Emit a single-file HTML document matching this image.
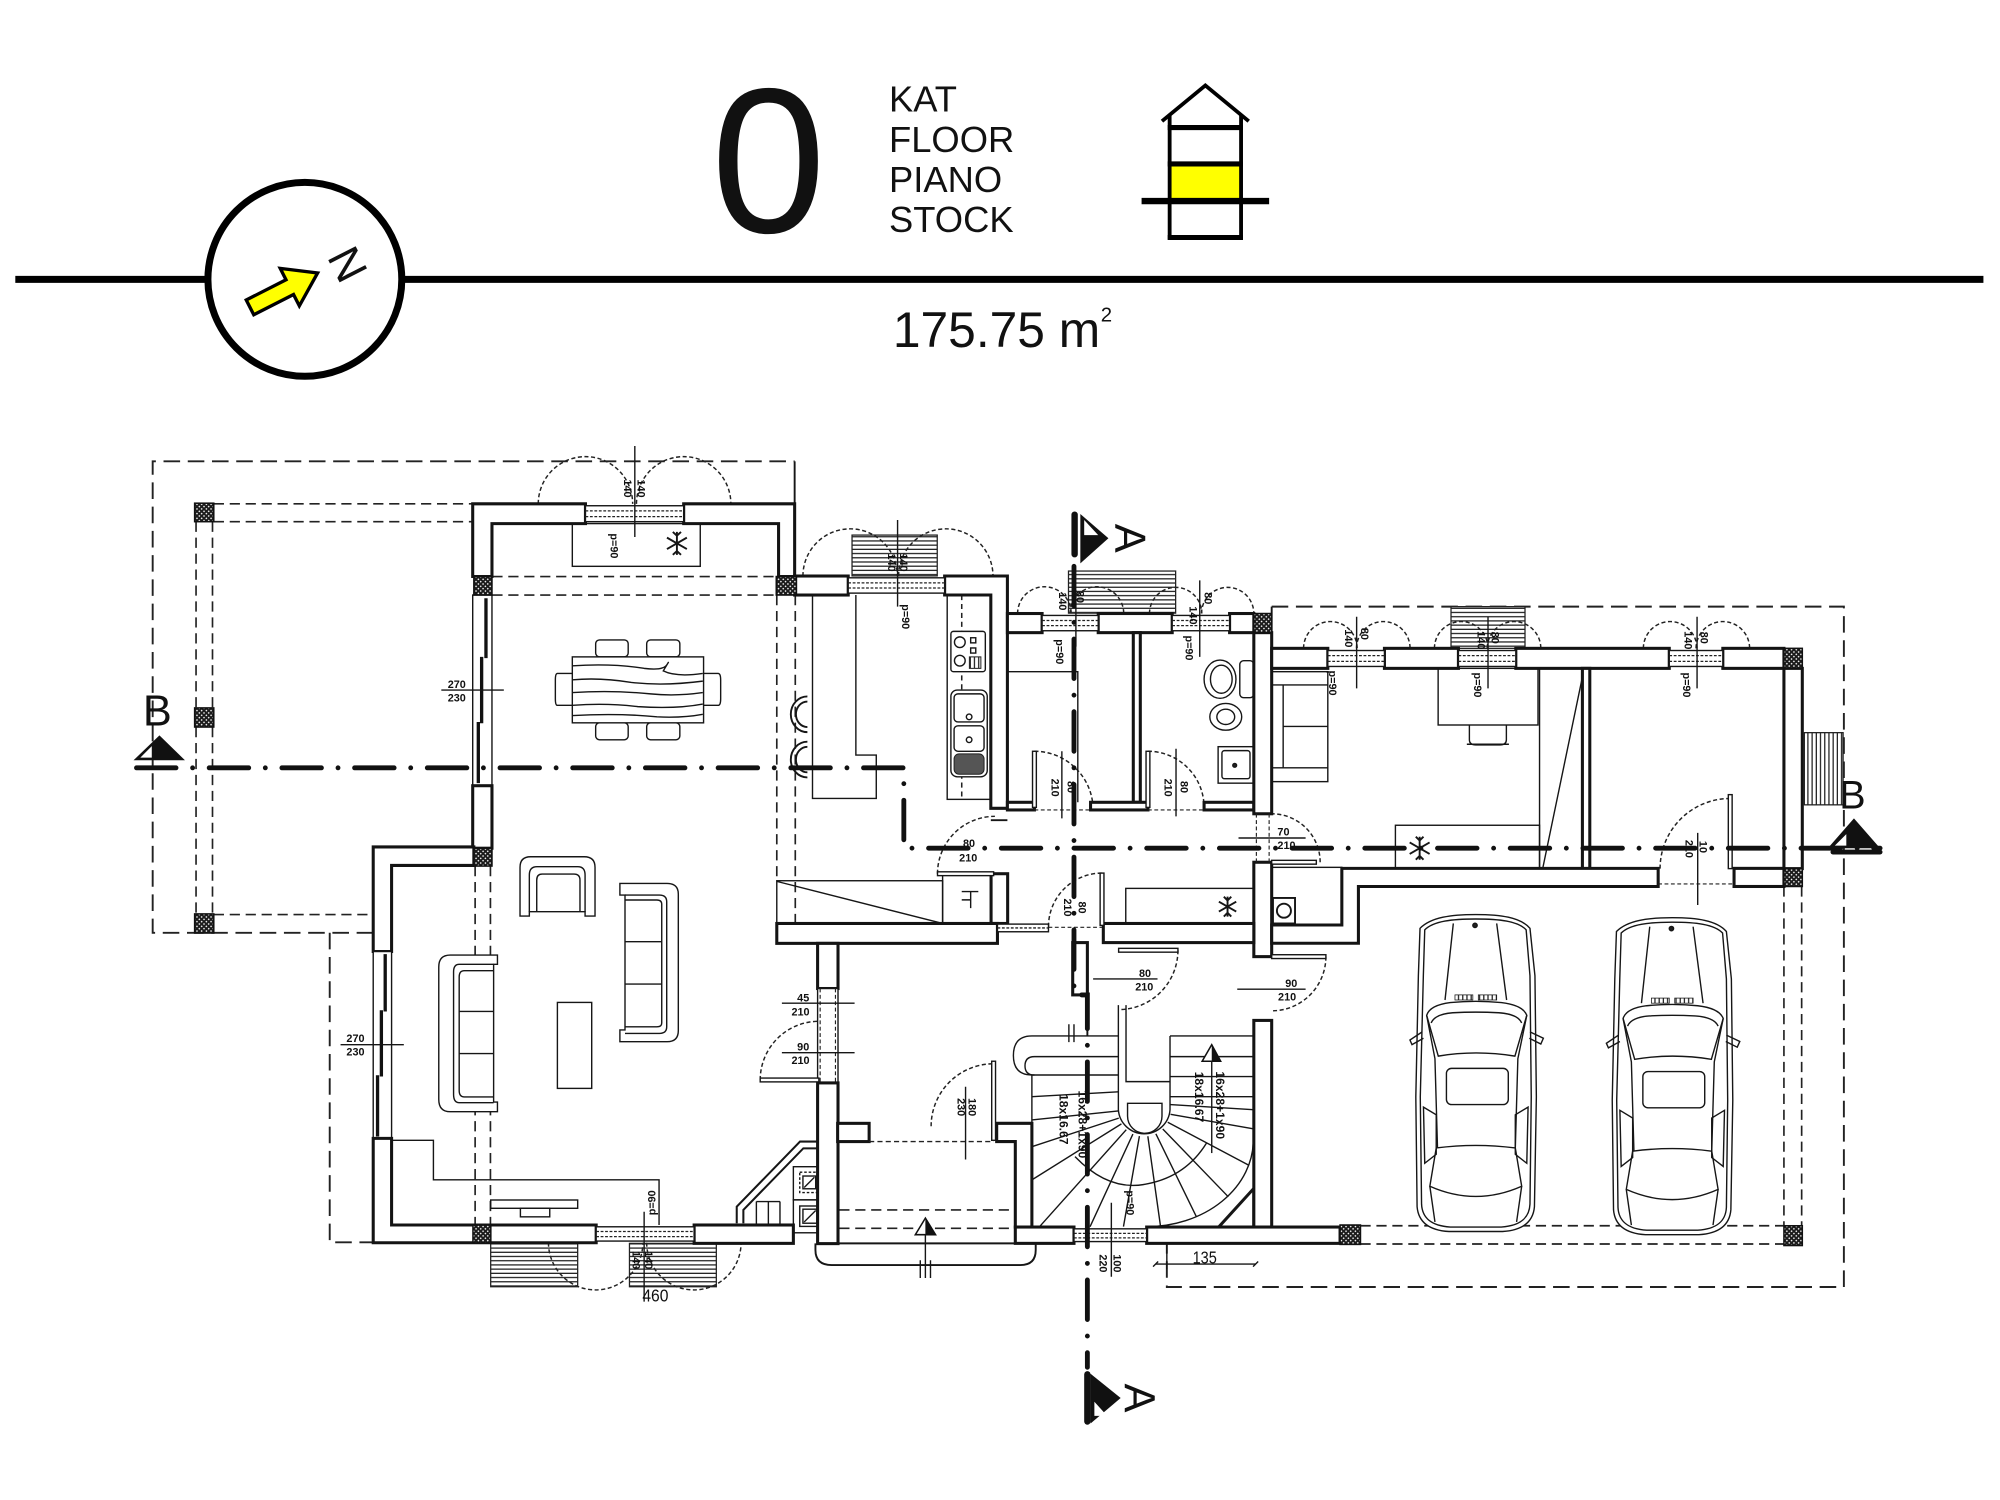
<!DOCTYPE html>
<html><head><meta charset="utf-8"><title>Floor 0</title>
<style>
html,body{margin:0;padding:0;background:#fff;}
svg{display:block;}
text{font-family:"Liberation Sans",Arial,sans-serif;fill:#111;}
.w{fill:#fff;stroke:#141414;stroke-width:2.4;}
.t{fill:none;stroke:#161616;stroke-width:1.1;}
.m{fill:none;stroke:#161616;stroke-width:1.5;}
.d{fill:none;stroke:#222;stroke-width:1.5;stroke-dasharray:13 6;}
.d2{fill:none;stroke:#222;stroke-width:1.3;stroke-dasharray:8 4.5;}
.arc{fill:none;stroke:#222;stroke-width:1.15;stroke-dasharray:3.2 2;}
.sec{fill:none;stroke:#111;stroke-width:3.8;stroke-linecap:round;stroke-dasharray:31 13 0 13;}
.lb{font-size:8.5px;font-weight:bold;}
.wf{fill:#fff;stroke:#161616;stroke-width:1.1;}
</style></head><body>
<svg xmlns="http://www.w3.org/2000/svg" width="2000" height="1500" viewBox="0 0 1568 1176">
<defs>
<pattern id="hx" width="2.6" height="2.6" patternUnits="userSpaceOnUse" patternTransform="rotate(45)">
<rect width="2.6" height="2.6" fill="#1a1a1a"/><rect x="0.8" y="0.8" width="1.1" height="1.1" fill="#fff"/>
</pattern>
<pattern id="sh" width="10" height="3.3" patternUnits="userSpaceOnUse">
<rect width="10" height="3.3" fill="#fff"/><rect y="1.2" width="10" height="1" fill="#222"/>
</pattern>
<pattern id="sv" width="3.3" height="10" patternUnits="userSpaceOnUse">
<rect width="3.3" height="10" fill="#fff"/><rect x="1.2" width="1" height="10" fill="#222"/>
</pattern>
</defs>

<!-- ============ HEADER ============ -->
<line x1="12" y1="219" x2="1555" y2="219" stroke="#000" stroke-width="5.5"/>
<circle cx="239" cy="219" r="76" fill="#fff" stroke="#000" stroke-width="5.5"/>
<polygon points="0,-6.5 35,-6.5 35,-16.5 59.5,0 35,16.5 35,6.5 0,6.5" transform="translate(196,241) rotate(-27)" fill="#ffff00" stroke="#000" stroke-width="2.6" stroke-linejoin="miter"/>
<g transform="translate(273,207) rotate(63)"><text x="0" y="12.5" font-size="35" text-anchor="middle">N</text></g>
<text x="602.5" y="182" font-size="162" text-anchor="middle">0</text>
<text x="697" y="87.5" font-size="28.5">KAT</text>
<text x="697" y="119" font-size="28.5">FLOOR</text>
<text x="697" y="150.5" font-size="28.5">PIANO</text>
<text x="697" y="182" font-size="28.5">STOCK</text>
<rect x="917" y="129" width="56" height="27" fill="#ffff00"/>
<polyline points="911,95 945,67 979,95" fill="none" stroke="#000" stroke-width="3"/>
<line x1="917" y1="90" x2="917" y2="188" stroke="#000" stroke-width="3"/>
<line x1="973" y1="90" x2="973" y2="188" stroke="#000" stroke-width="3"/>
<line x1="915.5" y1="100" x2="974.5" y2="100" stroke="#000" stroke-width="4"/>
<line x1="915.5" y1="128.5" x2="974.5" y2="128.5" stroke="#000" stroke-width="4"/>
<line x1="895" y1="157.6" x2="995" y2="157.6" stroke="#000" stroke-width="5"/>
<line x1="915.5" y1="186.2" x2="974.5" y2="186.2" stroke="#000" stroke-width="4"/>
<text x="700" y="272" font-size="39">175.75 m</text>
<text x="863" y="252" font-size="16">2</text>

<!-- ============ DASHED OUTLINES ============ -->
<path class="d" d="M292.6 731.3 H119.7 V361.7 H623"/>
<path class="m" d="M623 361.7 V395"/>
<path class="d" d="M258.5 731.3 V974 H292.6"/>
<path class="d2" d="M167.6 395 H370.6 M167.6 409 H370.6 M153.7 409 V555 M166.6 409 V555 M153.7 570 V716.5 M166.6 570 V716.5 M167.6 717 H292.6"/>
<path class="d2" d="M386 452 H608.6 M386 466.5 H608.6 M609 466.5 V690 M623.5 466.5 V738 M372.5 679 V960.4 M384.5 679 V960.4"/>
<path class="m" d="M997 475.6 V508.3"/>
<path class="d" d="M997 475.6 H1445.6 V1009 H914.8 V975"/>
<path class="d2" d="M1398.6 695 V961 M1412.5 695 V961 M1066.6 961 H1398.6 M1066.6 975.3 H1398.6"/>

<!-- ============ STEPS ============ -->
<g stroke="#222" stroke-width="1">
<rect x="668" y="419.5" width="66.8" height="32" fill="url(#sh)"/>
<rect x="837.7" y="447.7" width="84" height="33" fill="url(#sh)"/>
<rect x="1137.6" y="475.6" width="58" height="32.7" fill="url(#sh)"/>
<rect x="1414.6" y="574.4" width="30.4" height="56.6" fill="url(#sv)"/>
<rect x="384.7" y="974.8" width="68.2" height="34" fill="url(#sh)"/>
<rect x="493.5" y="974.8" width="68.1" height="34" fill="url(#sh)"/>
</g>

<!-- ============ WINDOW ARCS ============ -->
<path class="arc" d="M422 395 A37 37 0 0 1 496 395 M499 395 A37 37 0 0 1 573 395"/>
<path class="arc" d="M629.5 451.6 A37 37 0 0 1 703.5 451.6 M704.5 451.6 A37 37 0 0 1 778.5 451.6"/>
<path class="arc" d="M797.8 481 A21 21 0 0 1 839.8 481 M839 481 A21 21 0 0 1 881 481"/>
<path class="arc" d="M901.2 481 A20.5 20.5 0 0 1 942.2 481 M942 481 A20.5 20.5 0 0 1 983 481"/>
<path class="arc" d="M1022 508.3 A21 21 0 0 1 1064 508.3 M1063.5 508.3 A21 21 0 0 1 1105.5 508.3"/>
<path class="arc" d="M1124.6 508.3 A21 21 0 0 1 1166.6 508.3 M1166 508.3 A21 21 0 0 1 1208 508.3"/>
<path class="arc" d="M1288.4 508.3 A21 21 0 0 1 1330.4 508.3 M1329.7 508.3 A21 21 0 0 1 1371.7 508.3"/>
<path class="arc" d="M430 974.3 A37 37 0 0 0 504 974.3 M507 974.3 A37 37 0 0 0 581 974.3"/>

<!-- ============ DOOR ARCS ============ -->
<path class="arc" d="M811 589 A46 46 0 0 1 857 635"/>
<path class="arc" d="M900 589 A44 44 0 0 1 944 633"/>
<path class="arc" d="M1035 676 A38 38 0 0 0 997 638"/>
<path class="arc" d="M735 685 A45 45 0 0 1 780 640"/>
<path class="arc" d="M822 726.5 A42 42 0 0 1 864 684.5"/>
<path class="arc" d="M596 846.7 A46 46 0 0 1 642 800.7"/>
<path class="arc" d="M923.5 745 A46.5 46.5 0 0 1 877 791.5"/>
<path class="arc" d="M1039.5 750 A42.5 42.5 0 0 1 997 792.5"/>
<path class="arc" d="M730 883 A49 49 0 0 1 779 834"/>
<path class="arc" d="M1301.5 681 A55 55 0 0 1 1356.5 626"/>

<!-- ============ FURNITURE ============ -->
<rect class="t" x="448.7" y="410.5" width="100.3" height="33.5"/>
<g class="m" stroke-width="1.5"><path d="M530.7 417 V435 M522.9 421.5 L538.5 430.5 M522.9 430.5 L538.5 421.5 M527.5 417 L530.7 420 L533.9 417 M527.5 435 L530.7 432 L533.9 435"/></g>
<g class="t" stroke-width="1.2">
<rect x="467" y="501.7" width="25.5" height="13.3" rx="3"/>
<rect x="507" y="501.7" width="26" height="13.3" rx="3"/>
<rect x="467" y="566.7" width="25.5" height="13.3" rx="3"/>
<rect x="507" y="566.7" width="26" height="13.3" rx="3"/>
<path d="M448.7 528 H437 Q435.4 528 435.4 533 V548 Q435.4 553 437 553 H448.7"/>
<path d="M551.6 528 H563 Q565 528 565 533 V548 Q565 553 563 553 H551.6"/>
<rect x="448.7" y="515" width="102.9" height="51.7" fill="#fff"/>
<path d="M449 522 Q480 520 505 524 Q520 526 523 521 Q526 516 520 526 Q530 531 551 528"/>
<path d="M449 533 Q470 531 495 535 Q520 538 551 534"/>
<path d="M449 543 Q480 541 510 544 Q530 546 551 543"/>
<path d="M449 553 Q475 551 500 554 Q530 556 551 552"/>
<path d="M449 561 Q485 559 515 562 Q535 563 551 560"/>
</g>
<g class="t" stroke-width="1.2">
<path d="M407.7 718.2 V680 Q407.7 671.7 416 671.7 H458 Q466.5 671.7 466.5 680 V718.2 H458.7 V714.8 H415 V718.2 Z" fill="#fff"/>
<path d="M415 714.8 V686 Q415 679.5 421 679.5 H453 Q458.7 679.5 458.7 686 V714.8"/>
<path d="M420.8 714.8 V690 Q420.8 685.3 425 685.3 H450 Q454.7 685.3 454.7 690 V714.8"/>
</g>
<g class="t" stroke-width="1.2">
<path d="M486 692.6 H523 Q531.8 692.6 531.8 701 V808 Q531.8 816.7 523 816.7 H486 V807.5 H490 V701.7 H486 Z" fill="#fff"/>
<path d="M490 701.7 H517 Q522.7 701.7 522.7 707 V805 Q522.7 810.2 517 810.2 H490"/>
<path d="M490 705.6 H515 Q518.8 705.6 518.8 709 V802 Q518.8 805 515 805 H490"/>
<path d="M490 738.3 H518.8 M490 771.5 H518.8"/>
</g>
<rect class="t" stroke-width="1.2" x="437" y="785.9" width="26.9" height="67.4"/>
<g class="t" stroke-width="1.2">
<path d="M390 748.8 H353 Q344 748.8 344 758 V862 Q344 871.6 353 871.6 H390 V864 H387 V756 H390 Z" fill="#fff"/>
<path d="M387 756 H360 Q355.6 756 355.6 762 V858 Q355.6 864.5 360 864.5 H387"/>
<path d="M387 761 H364 Q360 761 360 766 V855 Q360 860 364 860 H387"/>
<path d="M360 793 H387 M360 826 H387"/>
</g>
<path class="t" stroke-width="1.2" d="M306.4 894 H339.8 V925 H516.7 V960.4"/>
<rect class="t" x="384.7" y="940.8" width="68.2" height="6.5" stroke-width="1.4"/>
<rect class="t" x="408" y="947.3" width="23" height="6.7"/>
<path class="t" stroke-width="1.2" d="M637 466.5 V626 H687 V592 H671 V466.5"/>
<g class="m" stroke-width="1.6">
<path d="M633 546 A13 14 0 0 0 633 574 M633 550 A9 10 0 0 0 633 570"/>
<path d="M633 581.5 A13 14 0 0 0 633 609.5 M633 585.5 A9 10 0 0 0 633 605.5"/>
</g>
<rect class="t" stroke-width="1.2" x="742.6" y="466.5" width="34.2" height="160.2"/>
<line x1="754" y1="466.5" x2="754" y2="626.7" stroke="#222" stroke-width="1.2" stroke-dasharray="4 3"/>
<rect class="wf" x="745.5" y="495" width="27" height="31.6" rx="2" stroke-width="1.2"/>
<circle class="t" cx="752.5" cy="503.5" r="4.2"/>
<circle class="t" cx="752.5" cy="518" r="4.2"/>
<rect class="t" x="761" y="500" width="4" height="4"/>
<rect class="t" x="761" y="508" width="4" height="4"/>
<rect x="760" y="515" width="9" height="9" fill="url(#sv)" stroke="#222" stroke-width="0.8"/>
<rect class="wf" x="745.5" y="541" width="28.5" height="68" rx="5" stroke-width="1.3"/>
<rect class="t" x="748" y="544" width="23.5" height="22" rx="3"/>
<rect class="t" x="748" y="569" width="23.5" height="20" rx="3"/>
<circle class="t" cx="759.8" cy="562" r="2.2"/>
<circle class="t" cx="759.8" cy="580" r="2.2"/>
<rect x="748" y="591" width="23.5" height="16" rx="4" fill="#555" stroke="#222" stroke-width="0.8"/>
<rect class="t" stroke-width="1.2" x="609" y="690.5" width="130" height="33.5"/>
<line class="t" x1="609" y1="691" x2="739" y2="724"/>
<rect class="t" stroke-width="1.2" x="739" y="685" width="39" height="39"/>
<path class="t" stroke-width="1.3" d="M754 699 H767 M761 699 V712 M754 705.5 H761"/>
<rect class="t" stroke-width="1.2" x="882.6" y="696.5" width="100.4" height="27.5"/>
<g class="m" stroke-width="1.5"><path d="M962.4 703 V718.6 M955.6 706.9 L969.2 714.7 M955.6 714.7 L969.2 706.9 M959.5 703 L962.4 706 L965.3 703 M959.5 718.6 L962.4 715.6 L965.3 718.6"/></g>
<g class="t" stroke-width="1.2">
<ellipse cx="956.5" cy="532.5" rx="12.5" ry="15"/>
<ellipse cx="957.5" cy="532.5" rx="8.5" ry="11"/>
<rect x="972" y="518" width="11" height="29" rx="3"/>
<ellipse cx="961" cy="562" rx="12.5" ry="10.5"/>
<ellipse cx="961" cy="562" rx="7" ry="6"/>
<rect x="955" y="585.4" width="28" height="28.6"/>
<rect x="958" y="588.5" width="22" height="22" rx="2"/>
<circle cx="968" cy="600" r="1.5" fill="#222"/>
<path d="M790 526.6 H845 V629"/>
</g>
<g class="t" stroke-width="1.2">
<rect x="997" y="526.6" width="44" height="86.2" fill="#fff"/>
<path d="M1006 537 V602 M997 537 H1041 M997 602 H1041 M1006 569.5 H1041"/>
<rect x="1127.5" y="524" width="78.3" height="44.4"/>
<path d="M1152 568.4 V580 Q1152 584 1157 584 H1176 Q1181 584 1181 580 V568.4 M1150 583.5 H1183"/>
<rect x="1094" y="647" width="113" height="33.8"/>
<path d="M1207 524 V680.8 M1209.5 680.8 L1242 524"/>
<rect x="998" y="704" width="17.3" height="20" stroke-width="1.5"/>
<circle cx="1006.6" cy="714" r="5.5" stroke-width="1.5"/>
</g>
<g class="m" stroke-width="1.5"><path d="M1113 656 V674 M1105.2 660.5 L1120.8 669.5 M1105.2 669.5 L1120.8 660.5 M1110 656 L1113 659 L1116 656 M1110 674 L1113 671 L1116 674"/></g>
<rect class="t" stroke-width="1.2" x="997" y="680" width="55" height="45.2"/>
<g class="t" stroke-width="1.2">
<rect x="622" y="914.7" width="26" height="26"/>
<rect x="627" y="919" width="15" height="16" stroke-dasharray="2 1.5"/>
<rect x="629.5" y="922" width="10" height="10"/>
<path d="M630.5 931 L638.5 923"/>
<rect x="622" y="940.7" width="26" height="25.8"/>
<rect x="627" y="945.5" width="16" height="16"/>
<rect x="629.5" y="948" width="11" height="11"/>
<path d="M630.5 958 L639.5 949"/>
<path d="M577.6 959 V946 L627.2 895 H641.6 M582.8 959 V948.6 L629.8 900.3 H641.6" stroke-width="1.6"/>
<path d="M593 942 H611.5 M593 942 V975 M602.4 942 V975 M611.5 942 V975"/>
</g>
<path class="d2" d="M658 948.6 H796 M658 963 H796"/>
<path class="m" d="M639.3 974.8 V980 Q639.3 991.8 652 991.8 H800 Q812 991.8 812 980 V974.8"/>
<polygon points="725.5,955 717.6,968 733.5,968" fill="#fff" stroke="#111" stroke-width="1.2"/>
<polygon points="725.5,955 725.5,968 733.5,968" fill="#111"/>
<path class="t" d="M725.5 968 V1002 M721.5 988 V1002 M729.5 988 V1002"/>
<g class="t" stroke-width="1.35">
<path d="M876.8 812.2 H809 Q794.5 812.2 794.5 827.5 Q794.5 842.8 809 842.8 H876.8"/>
<path d="M876.8 828.4 H811 Q803.6 828.4 803.6 835.6 Q803.6 842.8 811 842.8"/>
<path d="M809 842.8 V962"/>
<path d="M876.8 788 V870 A20.3 20.3 0 0 0 917.3 870 V812.2"/>
<path d="M882.8 788 V848 H917.3"/>
<path d="M884 865 H911 V875 A13.5 13.5 0 0 1 884 875 Z"/>
<path d="M917.3 812.2 H982.6 V893.7 A83.6 68 0 0 1 899 961.7"/>
<path d="M917.3 828.4 H982.6 M917.3 844 H982.6 M917.3 859.8 H982.6 M917.3 866 L982.6 870"/>
<path d="M917.7 873.6 L982.6 885 M915.5 879.8 L979.1 913.6 M911.6 885.1 L963 938.3 M906.2 888.9 L938 954 M899.9 890.8 L909.8 961.1 M893.3 890.7 L880.8 961.7 M888.2 889.1 L854.6 961.7 M883 885.7 L815 961.7 M879.2 881.1 L809 925 M877.1 876.6 L809 899 M876.8 871 L809 878 M876.8 856 L809 859.8"/>
<path d="M842.8 906.8 Q870 935 900 928 Q930 922 946 896"/>
<polygon points="983,931.7 983,962 955.4,962" fill="#fff" stroke-width="2.4"/>
<path d="M838 803 V817 M842 803 V817"/>
</g>
<polygon points="950,819 942.5,832 957,832" fill="#fff" stroke="#111" stroke-width="1.2"/>
<polygon points="950,819 950,832 957,832" fill="#111"/>
<path class="t" d="M950 832 V904"/>

<!-- ============ CARS ============ -->
<g class="t" stroke-width="1.35">
<path d="M1157 717 C1176 717 1192 719 1199.5 727.8 L1203.4 765 L1204.5 860 L1203 946 C1202 958 1194 964.5 1178 965.5 L1136 965.5 C1120 964.5 1112 958 1111 946 L1110 860 L1112 765 L1113.3 727.8 C1122 719 1138 717 1157 717 Z" fill="#fff"/>
<path d="M1157 720.5 C1175 720.5 1190 722 1196.5 729 L1199.5 765 L1200.5 860 L1199.5 944 C1199 955 1192 961 1177 962 L1137 962 C1122 961 1115 955 1114.5 944 L1113.5 860 L1115.9 765 L1117 729 C1124 722 1139 720.5 1157 720.5 Z"/>
<path d="M1139.4 724 L1132.9 784 M1173.4 724 L1181.2 784"/>
<circle cx="1156.4" cy="725.5" r="1.7" fill="#222"/>
<rect x="1140.7" y="780" width="14" height="4" fill="url(#sv)" stroke-width="0.6"/>
<rect x="1159" y="780" width="14.4" height="4" fill="url(#sv)" stroke-width="0.6"/>
<path d="M1118.5 796 Q1121 788 1137 786 Q1157 784 1177 786 Q1194 788 1197 796 L1187.7 828 Q1157 823 1127.6 828 Z"/>
<path d="M1122 802 Q1125 795 1139 794 Q1157 793 1175 794 Q1190 795 1193 802"/>
<path d="M1118.5 796 L1125 830 L1127 900 M1197 796 L1190 830 L1188 900"/>
<rect x="1134" y="837.6" width="48.5" height="28.4" rx="4"/>
<path d="M1126 900 Q1157 896 1188 900 L1193 930 Q1157 946 1121 930 Z"/>
<path d="M1116 868 L1126 874 L1126 905 L1117 912 Z M1198 868 L1188 874 L1188 905 L1197 912 Z"/>
<path d="M1115 809 L1105.4 815.4 L1107 819 L1116 814 M1199.5 809 L1210 814 L1208 818.5 L1199 814"/>
<path d="M1121 930 L1125 958 M1193 930 L1189 958"/>
</g>
<g transform="translate(154,2.5)" class="t" stroke-width="1.35">
<path d="M1157 717 C1176 717 1192 719 1199.5 727.8 L1203.4 765 L1204.5 860 L1203 946 C1202 958 1194 964.5 1178 965.5 L1136 965.5 C1120 964.5 1112 958 1111 946 L1110 860 L1112 765 L1113.3 727.8 C1122 719 1138 717 1157 717 Z" fill="#fff"/>
<path d="M1157 720.5 C1175 720.5 1190 722 1196.5 729 L1199.5 765 L1200.5 860 L1199.5 944 C1199 955 1192 961 1177 962 L1137 962 C1122 961 1115 955 1114.5 944 L1113.5 860 L1115.9 765 L1117 729 C1124 722 1139 720.5 1157 720.5 Z"/>
<path d="M1139.4 724 L1132.9 784 M1173.4 724 L1181.2 784"/>
<circle cx="1156.4" cy="725.5" r="1.7" fill="#222"/>
<rect x="1140.7" y="780" width="14" height="4" fill="url(#sv)" stroke-width="0.6"/>
<rect x="1159" y="780" width="14.4" height="4" fill="url(#sv)" stroke-width="0.6"/>
<path d="M1118.5 796 Q1121 788 1137 786 Q1157 784 1177 786 Q1194 788 1197 796 L1187.7 828 Q1157 823 1127.6 828 Z"/>
<path d="M1122 802 Q1125 795 1139 794 Q1157 793 1175 794 Q1190 795 1193 802"/>
<path d="M1118.5 796 L1125 830 L1127 900 M1197 796 L1190 830 L1188 900"/>
<rect x="1134" y="837.6" width="48.5" height="28.4" rx="4"/>
<path d="M1126 900 Q1157 896 1188 900 L1193 930 Q1157 946 1121 930 Z"/>
<path d="M1116 868 L1126 874 L1126 905 L1117 912 Z M1198 868 L1188 874 L1188 905 L1197 912 Z"/>
<path d="M1115 809 L1105.4 815.4 L1107 819 L1116 814 M1199.5 809 L1210 814 L1208 818.5 L1199 814"/>
<path d="M1121 930 L1125 958 M1193 930 L1189 958"/>
</g>

<!-- ============ WALLS ============ -->
<path class="w" d="M459 395 H370.6 V452 H385.7 V410.5 H459 Z"/>
<path class="w" d="M536 395 H623 V452 H610.4 V410.5 H536 Z"/>
<rect class="wf" x="370.6" y="466.5" width="15.1" height="149.5"/>
<path d="M381 469 V516 M377.6 515 V567 M375 566 V614" stroke="#111" stroke-width="2.6" fill="none"/>
<rect class="w" x="370.6" y="616" width="15.1" height="49"/>
<path class="w" d="M292.6 664 H371.5 V678.5 H307 V746 H292.6 Z"/>
<rect class="wf" x="292.6" y="746" width="14.4" height="146.5"/>
<path d="M302 748 V793 M299 792 V844 M296 843 V891" stroke="#111" stroke-width="2.6" fill="none"/>
<path class="w" d="M292.6 892.5 H307 V960.4 H467.4 V974.3 H292.6 Z"/>
<rect class="w" x="544.2" y="960.4" width="77.8" height="14.4"/>
<rect class="w" x="623" y="451.6" width="42" height="14.9"/>
<path class="w" d="M740.6 451.6 H789.8 V633.7 H776.8 V466.5 H740.6 Z"/>
<rect class="w" x="789.8" y="481" width="27.2" height="15"/>
<rect class="w" x="861" y="481" width="58" height="15"/>
<rect class="w" x="964" y="481" width="19" height="15"/>
<rect class="w" x="888.5" y="496" width="5.5" height="133"/>
<rect class="w" x="789.8" y="629" width="21.2" height="6"/>
<rect class="w" x="855" y="629" width="45" height="6"/>
<rect class="w" x="944" y="629" width="39" height="6"/>
<rect class="w" x="983" y="496" width="14" height="142"/>
<rect class="w" x="983" y="676" width="14" height="74"/>
<rect class="w" x="983" y="800" width="14" height="162"/>
<rect class="w" x="997" y="508.3" width="44" height="15.7"/>
<rect class="w" x="1085.4" y="508.3" width="58" height="15.7"/>
<rect class="w" x="1188.4" y="508.3" width="120.3" height="15.7"/>
<rect class="w" x="1350.7" y="508.3" width="47.9" height="15.7"/>
<rect class="w" x="1398.6" y="524" width="14.4" height="157"/>
<rect class="w" x="1240.6" y="524" width="5.8" height="157"/>
<path class="w" d="M1300 680.8 H1052 V725.2 H997 V739.5 H1065 V695 H1300 Z"/>
<rect class="w" x="1359.5" y="680.8" width="39.1" height="14.2"/>
<path class="m" d="M776.8 643 H789.8"/>
<rect class="w" x="777" y="685" width="13" height="39"/>
<rect class="w" x="609" y="724" width="173" height="15.6"/>
<rect class="w" x="865" y="724" width="118" height="15"/>
<rect class="w" x="841" y="739" width="11.5" height="41"/>
<path class="m" d="M852.5 780 V812"/>
<rect class="w" x="641" y="739.6" width="16" height="35.4"/>
<rect class="wf" x="641" y="775" width="16" height="74"/>
<rect class="w" x="641" y="849" width="16" height="126"/>
<rect class="w" x="656.7" y="880.7" width="24.7" height="14.3"/>
<path class="w" d="M781.4 880.7 H809 V962 H796 V895 H781.4 Z"/>
<rect class="w" x="796" y="962" width="46" height="12.8"/>
<rect class="w" x="899" y="962" width="151.6" height="12.8"/>
<path class="m" d="M657 974.8 H796"/>
<path d="M681.4 895 H779" stroke="#222" stroke-width="1.1" stroke-dasharray="4 2.5"/>
<g fill="#fff" stroke="#161616" stroke-width="1.1">
<rect x="809.5" y="589" width="3" height="44"/>
<rect x="898.5" y="589" width="3" height="44"/>
<rect x="997" y="674.5" width="35" height="3"/>
<rect x="735" y="683.5" width="44" height="3"/>
<rect x="862.5" y="684.5" width="3" height="41"/>
<rect x="596" y="845.2" width="46" height="3"/>
<rect x="877" y="743.5" width="46.5" height="3"/>
<rect x="997" y="748.5" width="42.5" height="3"/>
<rect x="777.5" y="832" width="3" height="62"/>
<rect x="1355" y="623" width="3" height="58"/>
</g>
<path d="M811 635 H855 M900 635 H944 M985 638 V676 M995 638 V676 M643 775 V849 M655 775 V849 M1300 693 H1359.5 M822 727 H864" stroke="#222" stroke-width="0.9" stroke-dasharray="3 2" fill="none"/>

<!-- ============ WINDOWS ============ -->
<g>
<rect class="wf" x="459" y="396.5" width="77" height="12.5"/>
<path d="M459 400.5 H536 M459 405 H536" stroke="#222" stroke-width="1" stroke-dasharray="2.2 1.3"/>
<rect class="wf" x="665" y="453" width="75.6" height="12"/>
<path d="M665 457 H740.6 M665 461 H740.6" stroke="#222" stroke-width="1" stroke-dasharray="2.2 1.3"/>
<rect class="wf" x="817" y="482.5" width="44" height="12"/>
<path d="M817 486.5 H861 M817 490.5 H861" stroke="#222" stroke-width="1" stroke-dasharray="2.2 1.3"/>
<rect class="wf" x="919" y="482.5" width="45" height="12"/>
<path d="M919 486.5 H964 M919 490.5 H964" stroke="#222" stroke-width="1" stroke-dasharray="2.2 1.3"/>
<rect class="wf" x="1041" y="510" width="44.4" height="12.5"/>
<path d="M1041 514 H1085.4 M1041 518.5 H1085.4" stroke="#222" stroke-width="1" stroke-dasharray="2.2 1.3"/>
<rect class="wf" x="1143.4" y="510" width="45" height="12.5"/>
<path d="M1143.4 514 H1188.4 M1143.4 518.5 H1188.4" stroke="#222" stroke-width="1" stroke-dasharray="2.2 1.3"/>
<rect class="wf" x="1308.7" y="510" width="42" height="12.5"/>
<path d="M1308.7 514 H1350.7 M1308.7 518.5 H1350.7" stroke="#222" stroke-width="1" stroke-dasharray="2.2 1.3"/>
<rect class="wf" x="467.4" y="961.8" width="76.8" height="11.2"/>
<path d="M467.4 965.5 H544.2 M467.4 969.5 H544.2" stroke="#222" stroke-width="1" stroke-dasharray="2.2 1.3"/>
<rect class="wf" x="842" y="963.4" width="57" height="10"/>
<path d="M842 967 H899 M842 970.5 H899" stroke="#222" stroke-width="1" stroke-dasharray="2.2 1.3"/>
<rect class="wf" x="782" y="724.5" width="40" height="6"/>
<path d="M782 727.5 H822" stroke="#222" stroke-width="1" stroke-dasharray="2.2 1.3"/>
</g>

<!-- ============ COLUMNS ============ -->
<g fill="url(#hx)" stroke="#111" stroke-width="1.2">
<rect x="152.6" y="394.5" width="15" height="14.5"/>
<rect x="152.6" y="555" width="15" height="15"/>
<rect x="152.6" y="716.5" width="15" height="15"/>
<rect x="371.5" y="452" width="14.2" height="14.5"/>
<rect x="608.6" y="452" width="15.8" height="14.5"/>
<rect x="371.5" y="665" width="14.2" height="14"/>
<rect x="370.8" y="960.4" width="14" height="14"/>
<rect x="983" y="481" width="14" height="15"/>
<rect x="1398.6" y="508.3" width="14.4" height="15.7"/>
<rect x="1398.6" y="681" width="14.4" height="14"/>
<rect x="1050.6" y="960.4" width="16" height="15.2"/>
<rect x="1398.6" y="961" width="14.4" height="15.5"/>
</g>

<!-- ============ DIM LINES ============ -->
<path class="t" d="M497.7 349.7 V421 M703.7 407.7 V475.6 M843.5 462.6 V507 M940.6 455 V515 M1063.6 483.5 V539.7 M1166.6 483.5 V539.7 M1330.5 483.5 V539.7 M832.5 589 V641.6 M922 587 V640 M757 852 V909 M1331 653 V709.5 M871.3 943 V1001 M505 950 V1020.5 M346 541 H395 M267 819 H316.6 M971 657 H1023.6 M857 767.5 H907.5 M970 775.5 H1023.6 M613 786.5 H670 M613 825.3 H670 M906 991 H984.4 M914.8 975 V995"/>
<path class="t" d="M904 993 L908 989 M982.4 993 L986.4 989"/>

<!-- ============ LABELS ============ -->
<g class="lb">
<text x="351" y="539.5">270</text><text x="351" y="550">230</text>
<text x="271.6" y="817">270</text><text x="271.6" y="827.5">230</text>
<text x="755" y="664">80</text><text x="752" y="675.5">210</text>
<text x="1001.5" y="655">70</text><text x="1001.5" y="665.5">210</text>
<text x="893" y="766">80</text><text x="890" y="776.5">210</text>
<text x="1007.6" y="774">90</text><text x="1002" y="784.5">210</text>
<text x="625" y="785">45</text><text x="620.5" y="796">210</text>
<text x="625" y="823.5">90</text><text x="620.5" y="834">210</text>
</g>
<text x="935" y="990.5" font-size="14" textLength="19" lengthAdjust="spacingAndGlyphs">135</text>
<text x="503.6" y="1020.5" font-size="14" textLength="20.5" lengthAdjust="spacingAndGlyphs">460</text>
<g class="lb" text-anchor="middle">
<text transform="translate(492.3,383) rotate(90)" y="3">140</text>
<text transform="translate(502.7,383) rotate(90)" y="3">140</text>
<text transform="translate(481.7,428) rotate(90)" y="3">p=90</text>
<text transform="translate(699,441) rotate(90)" y="3">140</text>
<text transform="translate(708.5,441) rotate(90)" y="3">140</text>
<text transform="translate(710,483.5) rotate(90)" y="3">p=90</text>
<text transform="translate(833.3,471.5) rotate(90)" y="3">140</text>
<text transform="translate(847,468) rotate(90)" y="3">80</text>
<text transform="translate(831,511) rotate(90)" y="3">p=90</text>
<text transform="translate(935.6,482.5) rotate(90)" y="3">140</text>
<text transform="translate(947.5,469) rotate(90)" y="3">80</text>
<text transform="translate(932.6,508) rotate(90)" y="3">p=90</text>
<text transform="translate(1057.4,500.5) rotate(90)" y="3">140</text>
<text transform="translate(1070,497) rotate(90)" y="3">80</text>
<text transform="translate(1045,535.5) rotate(90)" y="3">p=90</text>
<text transform="translate(1161.5,502) rotate(90)" y="3">140</text>
<text transform="translate(1172.4,500) rotate(90)" y="3">80</text>
<text transform="translate(1158.6,537) rotate(90)" y="3">p=90</text>
<text transform="translate(1323.6,502) rotate(90)" y="3">140</text>
<text transform="translate(1336,500) rotate(90)" y="3">80</text>
<text transform="translate(1322.5,537) rotate(90)" y="3">p=90</text>
<text transform="translate(839.8,617) rotate(90)" y="3">80</text>
<text transform="translate(827.5,617.5) rotate(90)" y="3">210</text>
<text transform="translate(928.4,617) rotate(90)" y="3">80</text>
<text transform="translate(916,617.5) rotate(90)" y="3">210</text>
<text transform="translate(848.5,711.5) rotate(90)" y="3">80</text>
<text transform="translate(837,711.5) rotate(90)" y="3">210</text>
<text transform="translate(762.5,868) rotate(90)" y="3">180</text>
<text transform="translate(753.5,868) rotate(90)" y="3">230</text>
<text transform="translate(1335.5,664) rotate(90)" y="3">10</text>
<text transform="translate(1324.5,665.5) rotate(90)" y="3">210</text>
<text transform="translate(886,943) rotate(90)" y="3">p=90</text>
<text transform="translate(876,990.5) rotate(90)" y="3">100</text>
<text transform="translate(865,990.5) rotate(90)" y="3">220</text>
<text transform="translate(510.8,943) rotate(-90)" y="3">p=90</text>
<text transform="translate(499,988) rotate(90)" y="3">140</text>
<text transform="translate(508.5,988) rotate(90)" y="3">140</text>
</g>
<g font-size="9.5" font-weight="bold" text-anchor="middle">
<text transform="translate(956.5,866.5) rotate(90)" y="3.3">16x28+1x90</text>
<text transform="translate(940,860) rotate(90)" y="3.3">18x16.67</text>
<text transform="translate(849,881.5) rotate(90)" y="3.3">16x28+1x90</text>
<text transform="translate(834,877.5) rotate(90)" y="3.3">18x16.67</text>
</g>

<!-- ============ SECTION LINES ============ -->
<path class="sec" d="M107 602 H708.6 V665 H1474"/>
<path class="sec" d="M842 444 V780 H852.5 V1072"/>
<polygon points="104.7,596 125,576.5 145,596" fill="#111"/>
<polygon points="110,594 119,585 119,594" fill="#fff"/>
<text x="112" y="569" font-size="34">B</text>
<polygon points="1433,665 1453.5,641.6 1474,665" fill="#111"/>
<polygon points="1438.5,663 1447.5,654 1447.5,663" fill="#fff"/>
<line x1="1437" y1="668" x2="1474" y2="668" stroke="#111" stroke-width="3.8" stroke-linecap="round"/>
<text x="1442" y="633.7" font-size="31">B</text>
<rect x="840" y="401" width="5" height="36" rx="2.5" fill="#111"/>
<polygon points="847,403 869,422 847,441.7" fill="#111"/>
<polygon points="850,407.7 861,419.5 850,419.5" fill="#fff"/>
<text transform="translate(886,422) rotate(90)" x="0" y="12" font-size="34" text-anchor="middle">A</text>
<rect x="850" y="1075" width="5" height="42" rx="2.5" fill="#111"/>
<polygon points="855,1077 878.6,1096 855,1116" fill="#111"/>
<polygon points="858,1099 868,1110 858,1110" fill="#fff"/>
<text transform="translate(893.5,1096) rotate(90)" x="0" y="12" font-size="34" text-anchor="middle">A</text>
</svg>
</body></html>
